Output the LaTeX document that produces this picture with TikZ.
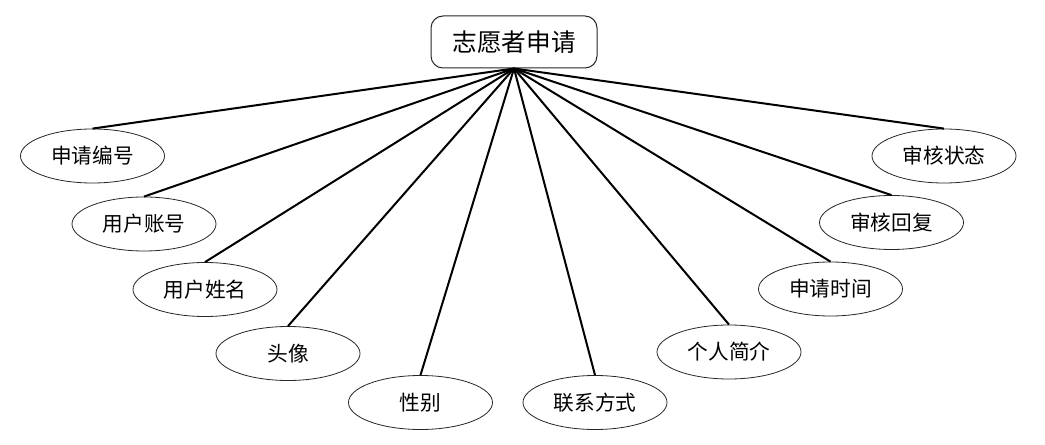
\documentclass[tikz,border=0pt]{standalone}
\usepackage{fontspec}
\setmainfont{Noto Sans CJK SC}
\usetikzlibrary{shapes.geometric}
\begin{document}
\begin{tikzpicture}[x=0.75pt,y=-0.75pt,
  attr/.style={ellipse,draw=black!85,line width=0.6pt,inner sep=0pt,minimum width=108pt,minimum height=40.5pt,font=\fontsize{15.5}{18}\selectfont},
  root/.style={rectangle,rounded corners=9pt,draw=black!85,line width=0.75pt,inner sep=0pt,minimum width=124.5pt,minimum height=39pt,font=\fontsize{18.5}{22}\selectfont},
  link/.style={line width=1.5pt,black}]
\useasboundingbox (0,0) rectangle (1045,445);
\node[root] (r) at (514,42) {志愿者申请};
\node[attr] (a1) at (92.5,156) {申请编号};
\node[attr] (a2) at (144,224) {用户账号};
\node[attr] (a3) at (205,289.5) {用户姓名};
\node[attr] (a4) at (288,353.5) {头像};
\node[attr] (a5) at (420.5,402.5) {性别};
\node[attr] (a6) at (595,402.5) {联系方式};
\node[attr] (a7) at (729,352) {个人简介};
\node[attr] (a8) at (830.5,289) {申请时间};
\node[attr] (a9) at (891.5,222.5) {审核回复};
\node[attr] (a10) at (944,156) {审核状态};
\foreach \i in {1,...,10} \draw[link] (r.south) -- (a\i.north);
\end{tikzpicture}
\end{document}
